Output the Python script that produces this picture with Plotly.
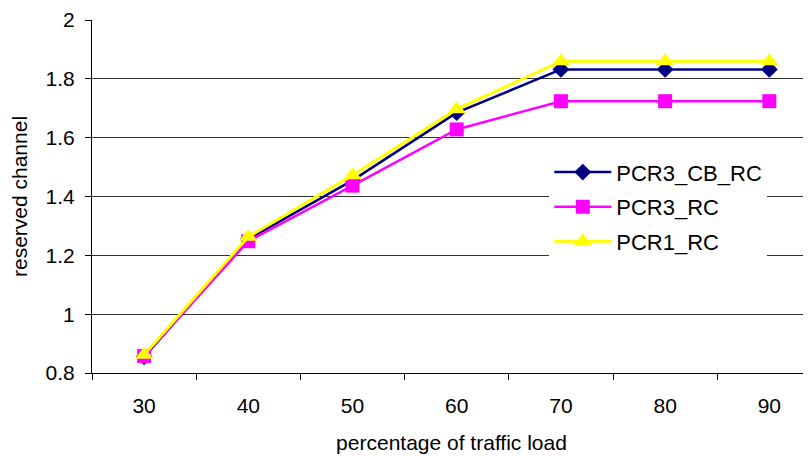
import plotly.graph_objects as go

categories = ["30", "40", "50", "60", "70", "80", "90"]
pcr3_cb_rc = [0.855, 1.255, 1.455, 1.685, 1.832, 1.832, 1.832]
pcr3_rc = [0.858, 1.248, 1.437, 1.628, 1.724, 1.724, 1.724]
pcr1_rc = [0.862, 1.263, 1.472, 1.697, 1.860, 1.860, 1.860]

FONT = "Liberation Sans, Arial, sans-serif"

fig = go.Figure()
fig.add_trace(go.Scatter(
    x=categories, y=pcr3_cb_rc, name="PCR3_CB_RC", mode="lines+markers",
    line=dict(color="#000080", width=2.5),
    marker=dict(symbol="diamond", size=13, color="#000080"),
    legendgroup="a"))
fig.add_trace(go.Scatter(
    x=categories, y=pcr3_rc, name="PCR3_RC", mode="lines+markers",
    line=dict(color="#FF00FF", width=2.5),
    marker=dict(symbol="square", size=14, color="#FF00FF"),
    legendgroup="b"))
fig.add_trace(go.Scatter(
    x=categories, y=pcr1_rc, name="PCR1_RC", mode="lines+markers",
    line=dict(color="#FFFF00", width=3),
    marker=dict(symbol="triangle-up", size=16, color="#FFFF00"),
    legendgroup="c"))

fig.update_layout(
    width=811, height=458,
    margin=dict(l=84, r=8, t=12, b=93, autoexpand=False),
    paper_bgcolor="white", plot_bgcolor="white",
    font=dict(family=FONT, size=21, color="black"),
    showlegend=True,
    legend=dict(
        x=0.636, y=0.628, xanchor="left", yanchor="top",
        bgcolor="white", borderwidth=0,
        font=dict(family=FONT, size=22, color="black"),
        tracegroupgap=3, itemwidth=57,
    ),
    xaxis=dict(
        type="category", range=[-0.5, 6.4], automargin=False,
        showline=True, linecolor="black", linewidth=1,
        ticks="outside", ticklen=6, tickcolor="black", tickson="boundaries",
        showgrid=False, ticklabelstandoff=14,
        tickfont=dict(family=FONT, size=21),
        title=dict(text="percentage of traffic load", font=dict(family=FONT, size=21), standoff=19),
    ),
    yaxis=dict(
        range=[0.8, 2.0], dtick=0.2, tick0=0.8, automargin=False,
        showline=True, linecolor="black", linewidth=1,
        ticks="outside", ticklen=6, tickcolor="black",
        showgrid=True, gridcolor="#333333", gridwidth=1,
        zeroline=False, ticklabelstandoff=6,
        tickfont=dict(family=FONT, size=21),
        title=dict(text="reserved channel", font=dict(family=FONT, size=21), standoff=12),
    ),
)

fig.write_html("out.html")
